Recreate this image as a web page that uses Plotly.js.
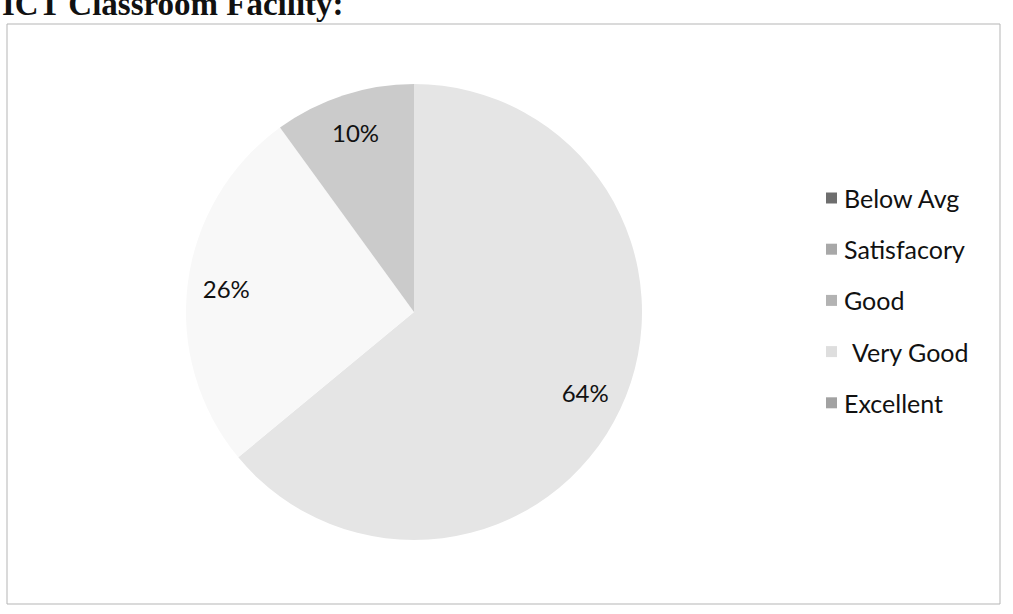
<!DOCTYPE html>
<html>
<head>
<meta charset="utf-8">
<script src="https://cdn.plot.ly/plotly-3.0.1.min.js"></script>
<style>html,body{margin:0;padding:0;background:#fff;}#chart{width:1013px;height:614px;}</style>
</head>
<body>
<div id="chart"></div>
<script>
// ---- data ----
const title = "ICT Classroom Facility:";
const categories = ["Below Avg", "Satisfacory", "Good", "Very Good", "Excellent"];
const values = [0, 0, 64, 26, 10];
const sliceColors = ["#6e6e6e", "#a9a9a9", "#e5e5e5", "#f8f8f8", "#cbcbcb"];
const legendColors = ["#6e6e6e", "#a8a8a8", "#b3b3b3", "#dedede", "#a2a2a2"];

// ---- build ----
const W = 1013, H = 614;
const px = x => x / W;
const py = y => 1 - y / H;

const shown = values.map((v, i) => i).filter(i => values[i] > 0);
const pieLabels = shown.map(i => categories[i]);
const pieValues = shown.map(i => values[i]);
const pieColors = shown.map(i => sliceColors[i]);

const domain = {x: [px(414 - 228), px(414 + 228)], y: [py(312 + 228), py(312 - 228)]};

const traceMain = {
  type: "pie", labels: pieLabels, values: pieValues, sort: false,
  direction: "clockwise", rotation: 0, domain: domain,
  marker: {colors: pieColors, line: {width: 0}},
  textinfo: "none", hoverinfo: "label+percent", showlegend: false
};
const traceText = {
  type: "pie", labels: pieLabels, values: pieValues, sort: false,
  direction: "clockwise", rotation: 0, domain: domain, hole: 0.66,
  marker: {colors: pieLabels.map(() => "rgba(0,0,0,0)"), line: {width: 0}},
  textinfo: "percent", textposition: "inside", insidetextorientation: "horizontal",
  textfont: {family: "Lato, sans-serif", size: 24, color: "#111111"},
  hoverinfo: "skip", showlegend: false
};

const annotations = [{
  text: title, xref: "paper", yref: "paper", x: 0, y: py(4),
  xanchor: "left", yanchor: "middle", showarrow: false,
  font: {family: "Liberation Serif, Times New Roman, serif", size: 33, color: "#111", weight: "bold"}
}];
const shapes = [{
  type: "rect", xref: "paper", yref: "paper",
  x0: px(7), x1: px(1000), y0: py(604), y1: py(24),
  line: {color: "#b5b5b5", width: 1}, fillcolor: "rgba(0,0,0,0)"
}];
categories.forEach((c, i) => {
  const cy = 198 + 51.2 * i;
  shapes.push({
    type: "rect", xref: "paper", yref: "paper",
    x0: px(826), x1: px(837), y0: py(cy + 5.5), y1: py(cy - 5.5),
    line: {width: 0}, fillcolor: legendColors[i]
  });
  annotations.push({
    text: c, xref: "paper", yref: "paper", x: px(842 + (c === "Very Good" ? 8 : 0)), y: py(cy),
    xanchor: "left", yanchor: "middle", showarrow: false,
    font: {family: "Lato, sans-serif", size: 25, color: "#111111"}
  });
});

const layout = {
  width: W, height: H, margin: {l: 0, r: 0, t: 0, b: 0},
  paper_bgcolor: "#ffffff", plot_bgcolor: "#ffffff",
  showlegend: false, annotations: annotations, shapes: shapes
};
Plotly.newPlot("chart", [traceMain, traceText], layout, {displayModeBar: false, staticPlot: true});
</script>
</body>
</html>
